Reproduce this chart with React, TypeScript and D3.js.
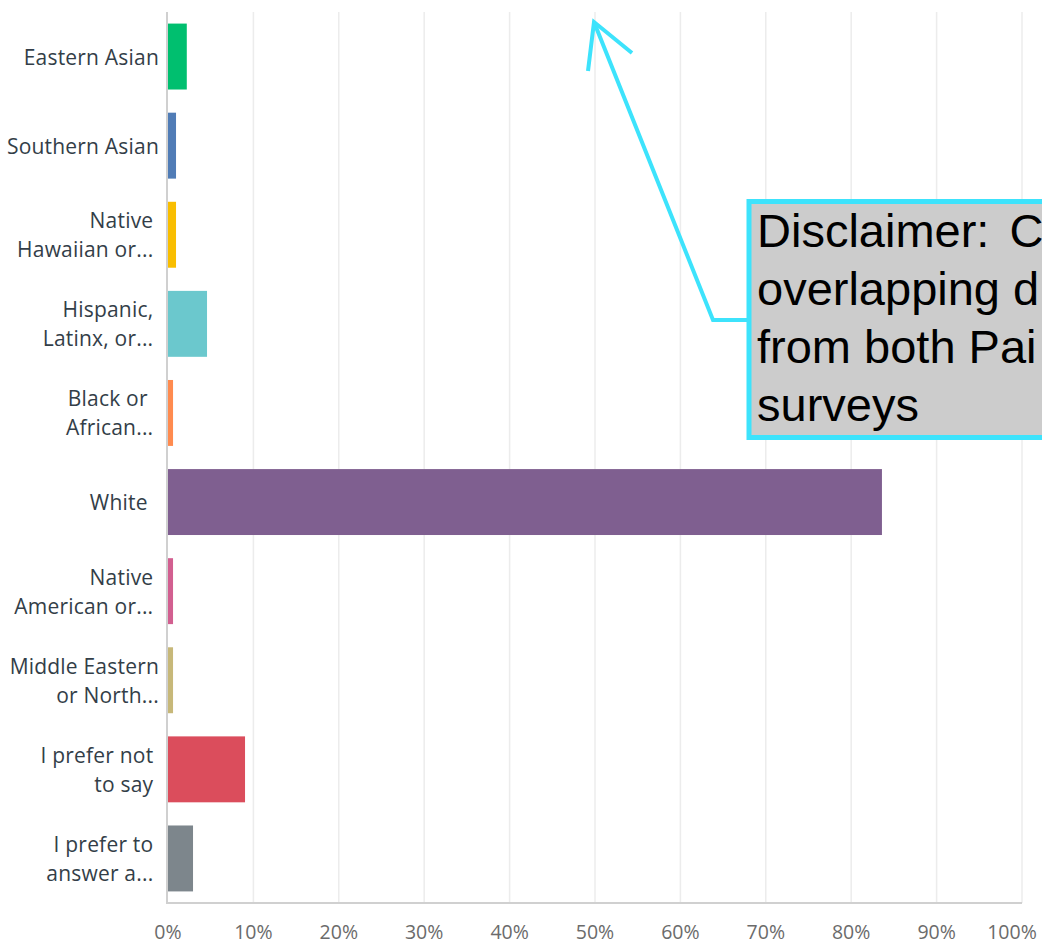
import React from 'react';
import * as d3 from 'd3';

const categories = [
  'Eastern Asian',
  'Southern Asian',
  'Native Hawaiian or...',
  'Hispanic, Latinx, or...',
  'Black or African...',
  'White',
  'Native American or...',
  'Middle Eastern or North...',
  'I prefer not to say',
  'I prefer to answer a...',
];

// wrapped label lines as shown in the chart
const labelLines = [
  ['Eastern Asian'],
  ['Southern Asian'],
  ['Native ', 'Hawaiian or... '],
  ['Hispanic, ', 'Latinx, or... '],
  ['Black or  ', 'African... '],
  ['White  '],
  ['Native ', 'American or... '],
  ['Middle Eastern', 'or North...'],
  ['I prefer not ', 'to say '],
  ['I prefer to ', 'answer a... '],
];

const percents = [2.2, 0.94, 0.94, 4.57, 0.59, 83.6, 0.59, 0.59, 9.02, 2.93];

const barColors = [
  '#00bf6f',
  '#507cb6',
  '#f9be00',
  '#6bc8cd',
  '#ff8b4f',
  '#7f5f90',
  '#d25f90',
  '#c7b879',
  '#db4d5c',
  '#7d868c',
];

const ticks = [0, 10, 20, 30, 40, 50, 60, 70, 80, 90, 100];

const noteLines = ['Disclaimer: C', 'overlapping d', 'from both Pai', 'surveys'];

const W = 1042;
const H = 944;
const left = 168;
const right = 1022;
const top = 12;
const bottom = 903;

const App = () => {
  const x = d3.scaleLinear().domain([0, 100]).range([left, right]);
  const y = d3
    .scaleBand<string>()
    .domain(categories)
    .range([top, bottom])
    .paddingInner(0.26)
    .paddingOuter(0.13);
  const lineH = 29;
  const cyan = '#3de3fc';

  return (
    <svg
      width={W}
      height={H}
      style={{ position: 'absolute', left: 0, top: 0, background: '#fff' }}>
      {/* grid */}
      {ticks.slice(1).map(t => (
        <line
          key={`g${t}`}
          x1={x(t)}
          x2={x(t)}
          y1={top}
          y2={bottom}
          stroke="#ececec"
          strokeWidth={1.5}
        />
      ))}
      {/* bars */}
      {categories.map((c, i) => (
        <rect
          key={c}
          x={x(0)}
          y={y(c)}
          width={x(percents[i]) - x(0)}
          height={y.bandwidth()}
          fill={barColors[i]}
        />
      ))}
      {/* axes */}
      <line x1={left - 1} x2={left - 1} y1={top} y2={bottom + 1} stroke="#d0d0d0" strokeWidth={2} />
      <line x1={left - 1} x2={right} y1={bottom} y2={bottom} stroke="#d0d0d0" strokeWidth={2} />
      {/* category labels */}
      {categories.map((c, i) => {
        const lines = labelLines[i];
        const cy = (y(c) as number) + y.bandwidth() / 2;
        const y0 = cy - ((lines.length - 1) * lineH) / 2;
        return (
          <text
            key={`l${c}`}
            textAnchor="end"
            fontFamily="Open Sans"
            fontSize={21}
            letterSpacing={0.2}
            fill="#333e48"
            style={{ whiteSpace: 'pre' }}>
            {lines.map((ln, j) => (
              <tspan key={j} x={159} y={y0 + j * lineH} dy="0.38em">
                {ln}
              </tspan>
            ))}
          </text>
        );
      })}
      {/* tick labels */}
      {ticks.map(t => (
        <text
          key={`t${t}`}
          x={t === 100 ? x(t) - 10 : x(t)}
          y={939}
          textAnchor="middle"
          fontFamily="Open Sans"
          fontSize={19.5}
          fill="#6b6b6b">
          {t}%
        </text>
      ))}
      {/* annotation */}
      <polyline
        points="749,320 713,320 594,22"
        fill="none"
        stroke={cyan}
        strokeWidth={4}
      />
      <polyline
        points="588,71 594,22 632,53"
        fill="none"
        stroke={cyan}
        strokeWidth={4}
      />
      <rect x={749} y={201.5} width={320} height={236} fill="#cccccc" stroke={cyan} strokeWidth={5} />
      {noteLines.map((ln, i) => (
        <text
          key={`n${i}`}
          x={757}
          y={247 + i * 58}
          fontFamily="Liberation Sans, Arial"
          fontSize={47}
          fill="#000"
          wordSpacing={i === 0 ? 7 : 0}>
          {ln}
        </text>
      ))}
    </svg>
  );
};

export default App;
